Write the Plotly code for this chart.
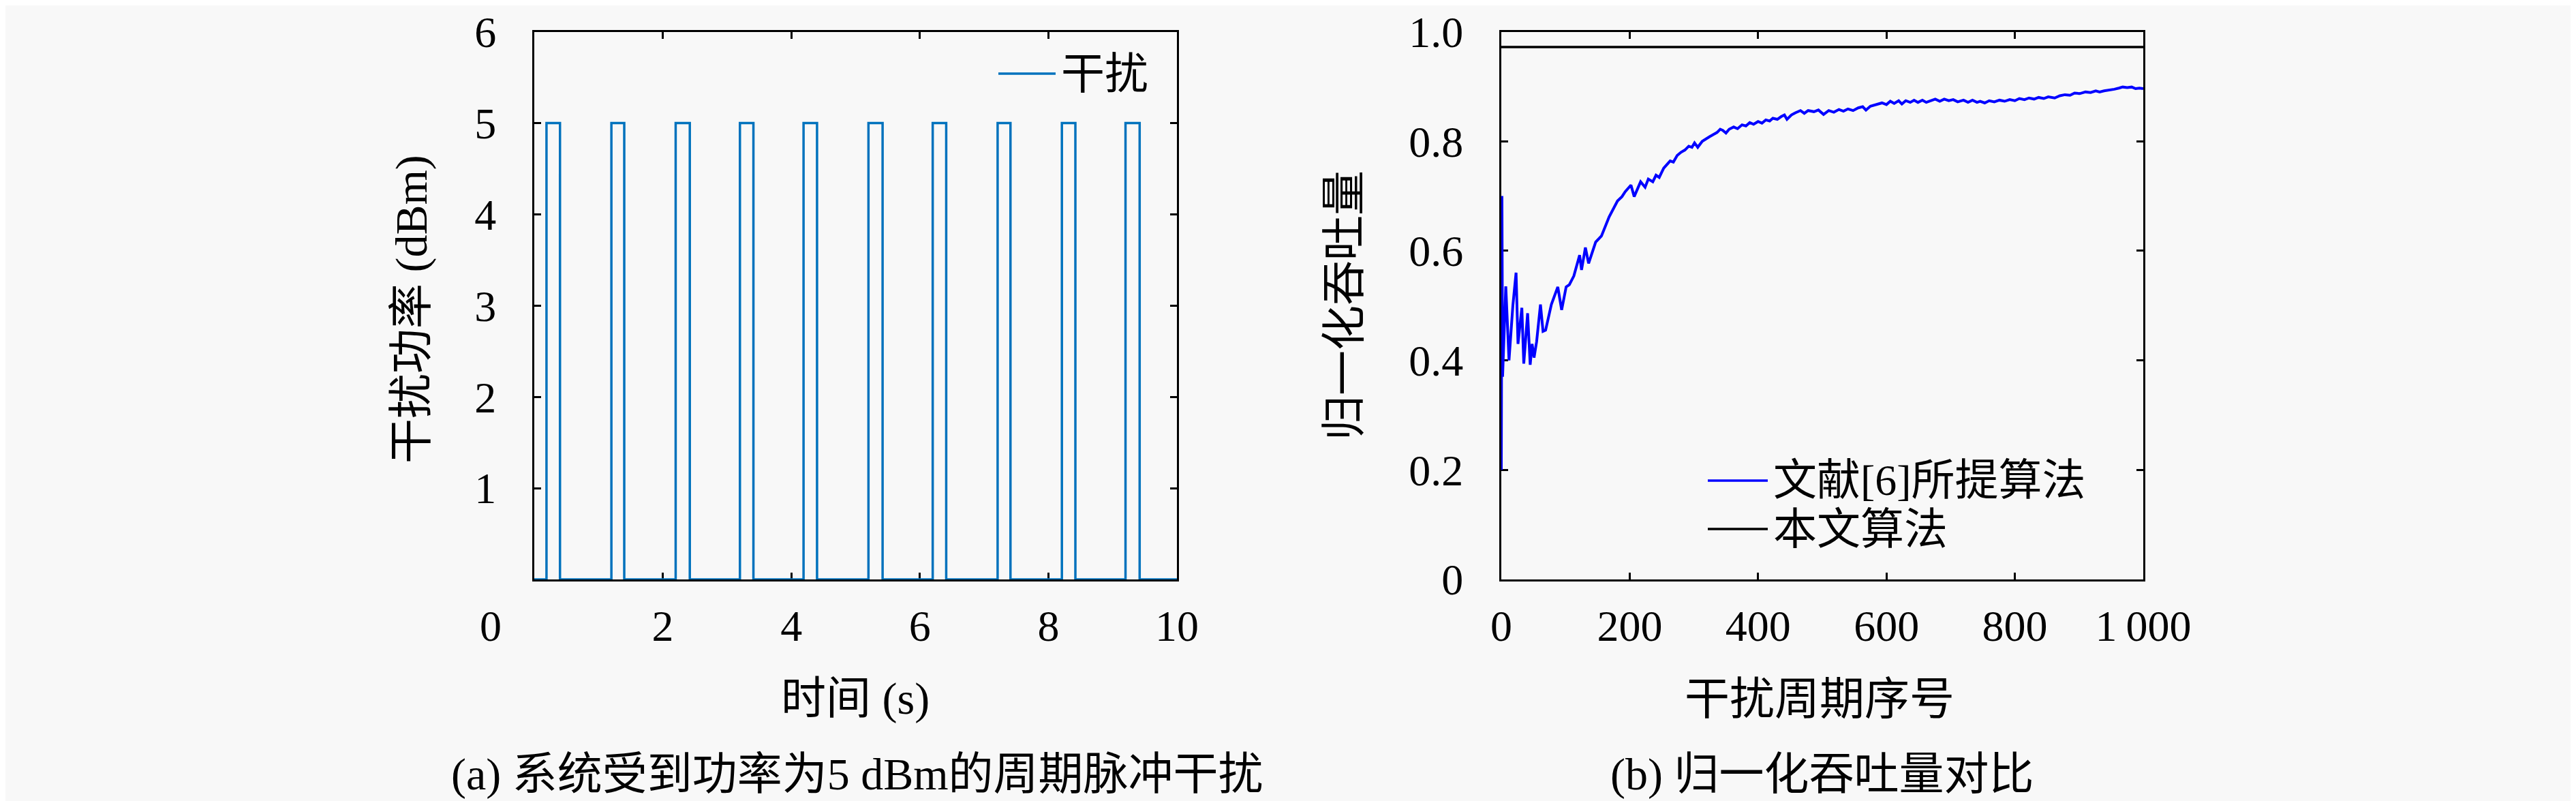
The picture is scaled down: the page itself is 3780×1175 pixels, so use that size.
import plotly.graph_objects as go

W, H = 3780, 1175
FONT = "Liberation Serif, Noto Sans CJK SC, serif"

# (a) 周期脉冲干扰: 每个脉冲的起止时间 (s) 与功率 (dBm)
pulse_on = [0.19, 1.20, 2.20, 3.20, 4.19, 5.20, 6.20, 7.21, 8.21, 9.20]
pulse_off = [0.40, 1.40, 2.42, 3.41, 4.40, 5.42, 6.41, 7.41, 8.42, 9.42]
pulse_power = 5
t_start, t_end = 0, 10

# (b) 归一化吞吐量
period_idx = [
    0, 1, 2, 7, 12, 18, 23, 26, 32, 35,
    41, 45, 48, 51, 55, 61, 65, 69, 78, 88,
    94, 101, 106, 113, 122, 125, 131, 136, 147, 156,
    168, 175, 181, 188, 193, 202, 207, 217, 224, 229,
    236, 241, 246, 253, 258, 263, 268, 274, 280, 286,
    292, 297, 301, 306, 313, 318, 324, 330, 336, 341,
    345, 350, 355, 362, 368, 375, 381, 387, 393, 400,
    406, 412, 418, 423, 430, 436, 441, 445, 452, 458,
    466, 472, 478, 487, 494, 502, 510, 518, 526, 533,
    540, 548, 556, 563, 568, 575, 582, 588, 593, 600,
    606, 612, 619, 624, 630, 637, 643, 649, 656, 662,
    670, 676, 683, 690, 697, 704, 711, 720, 727, 734,
    741, 746, 753, 760, 768, 776, 784, 792, 800, 807,
    815, 822, 830, 837, 845, 852, 862, 870, 878, 886,
    893, 901, 910, 918, 926, 932, 939, 947, 955, 962,
    968, 975, 982, 988, 994, 1000,
]
ref6_throughput = [
    0.200, 0.700, 0.370, 0.535, 0.400, 0.500, 0.560, 0.430, 0.496, 0.394,
    0.486, 0.392, 0.430, 0.405, 0.434, 0.502, 0.453, 0.455, 0.502, 0.534,
    0.492, 0.534, 0.538, 0.554, 0.592, 0.565, 0.606, 0.577, 0.616, 0.627,
    0.662, 0.679, 0.691, 0.699, 0.708, 0.720, 0.699, 0.726, 0.716, 0.731,
    0.726, 0.738, 0.734, 0.751, 0.757, 0.764, 0.762, 0.774, 0.780, 0.784,
    0.791, 0.789, 0.797, 0.789, 0.800, 0.804, 0.808, 0.812, 0.816, 0.822,
    0.820, 0.815, 0.822, 0.826, 0.823, 0.830, 0.828, 0.834, 0.831, 0.836,
    0.833, 0.839, 0.837, 0.842, 0.840, 0.845, 0.848, 0.840, 0.848, 0.852,
    0.856, 0.851, 0.856, 0.854, 0.857, 0.849, 0.856, 0.853, 0.858, 0.855,
    0.859, 0.856, 0.861, 0.863, 0.857, 0.864, 0.866, 0.868, 0.870, 0.867,
    0.873, 0.869, 0.874, 0.868, 0.874, 0.871, 0.875, 0.871, 0.875, 0.871,
    0.874, 0.877, 0.873, 0.877, 0.874, 0.876, 0.872, 0.875, 0.871, 0.875,
    0.871, 0.873, 0.870, 0.874, 0.872, 0.875, 0.873, 0.876, 0.874, 0.878,
    0.876, 0.879, 0.877, 0.880, 0.878, 0.881, 0.879, 0.883, 0.885, 0.884,
    0.888, 0.887, 0.890, 0.889, 0.892, 0.890, 0.892, 0.893, 0.895, 0.897,
    0.899, 0.898, 0.899, 0.896, 0.897, 0.896,
]
proposed_level = 0.972

# tick labels
left_xticks = [0, 2, 4, 6, 8, 10]
left_xtext = ["0" + "\u00a0" * 8, "2", "4", "6", "8", "10"]
left_yticks = [1, 2, 3, 4, 5, 6]
right_xticks = [0, 200, 400, 600, 800, 1000]
right_xtext = ["0", "200", "400", "600", "800", "1\u2009000"]
right_yticks = [0, 0.2, 0.4, 0.6, 0.8, 1.0]
right_ytext = ["0", "0.2", "0.4", "0.6", "0.8", "1.0"]


def px(x):
    return x / W


def py(y):
    return 1 - y / H


# 阶梯波形
pulse_t = [t_start]
pulse_p = [0]
for a, b in zip(pulse_on, pulse_off):
    pulse_t += [a, a, b, b]
    pulse_p += [0, pulse_power, pulse_power, 0]
pulse_t.append(t_end)
pulse_p.append(0)

fig = go.Figure()
fig.add_trace(go.Scatter(x=pulse_t, y=pulse_p, mode="lines",
                         line=dict(color="#0072BD", width=3.5),
                         xaxis="x", yaxis="y", showlegend=False))
fig.add_trace(go.Scatter(x=period_idx, y=ref6_throughput, mode="lines",
                         line=dict(color="#0000FF", width=4),
                         xaxis="x2", yaxis="y2", showlegend=False))
fig.add_trace(go.Scatter(x=[period_idx[0], period_idx[-1]],
                         y=[proposed_level, proposed_level], mode="lines",
                         line=dict(color="black", width=3.5),
                         xaxis="x2", yaxis="y2", showlegend=False))

ax = dict(showline=True, linecolor="black", linewidth=3, mirror="ticks",
          ticks="inside", ticklen=10, tickwidth=2.5, tickcolor="black",
          showgrid=False, zeroline=False, automargin=False,
          tickfont=dict(family=FONT, size=64, color="black"),
          layer="below traces")

fig.update_layout(
    width=W, height=H,
    margin=dict(l=0, r=0, t=0, b=0),
    paper_bgcolor="#f8f8f8", plot_bgcolor="#f8f8f8",
    showlegend=False,
    xaxis=dict(ax, domain=[px(776), px(1719)], range=[t_start, t_end],
               tickvals=left_xticks, ticktext=left_xtext, anchor="y",
               ticklabelstandoff=10),
    yaxis=dict(ax, domain=[py(842), py(38.5)], range=[0, 6],
               tickvals=left_yticks, anchor="x", ticklabelstandoff=40),
    xaxis2=dict(ax, domain=[px(2195), px(3137)], range=[0, 1000],
                tickvals=right_xticks, ticktext=right_xtext, anchor="y2",
                ticklabelstandoff=10),
    yaxis2=dict(ax, domain=[py(842), py(38.5)], range=[0, 1.0],
                tickvals=right_yticks, ticktext=right_ytext, anchor="x2",
                ticklabelstandoff=40),
)


def label(text, x, y, angle=0, xanchor="center", size=66):
    fig.add_annotation(text=text, x=px(x), y=py(y), xref="paper", yref="paper",
                       showarrow=False, textangle=angle, xanchor=xanchor,
                       yanchor="middle",
                       font=dict(family=FONT, size=size, color="black"))


label("干扰功率 (dBm)", 596, 446, angle=-90)
label("时间 (s)", 1247, 1017)
label("(a) 系统受到功率为5 dBm的周期脉冲干扰", 1250, 1128)
label("归一化吞吐量", 1964, 440, angle=-90)
label("干扰周期序号", 2662, 1017)
label("(b) 归一化吞吐量对比", 2665, 1128)

# 图例
legend_rows = [
    (1457, 1541, 100, "#0072BD", "干扰"),
    (2498, 2586, 697, "#0000FF", "文献[6]所提算法"),
    (2498, 2586, 768, "black", "本文算法"),
]
for x0, x1, y, color, text in legend_rows:
    fig.add_shape(type="line", xref="paper", yref="paper",
                  x0=px(x0), x1=px(x1), y0=py(y), y1=py(y),
                  line=dict(color=color, width=3.5))
    label(text, x1 + 6, y, xanchor="left", size=64)

fig.write_html("out.html")
